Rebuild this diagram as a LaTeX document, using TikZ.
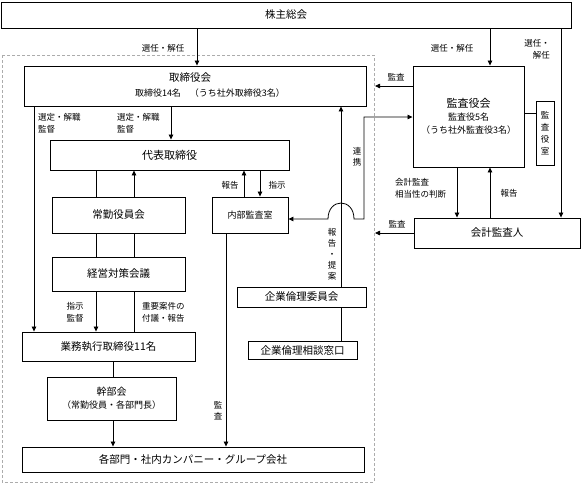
\documentclass[tikz,border=0pt]{standalone}
\usepackage{fontspec}
\setmainfont{Noto Sans CJK JP}
\usetikzlibrary{arrows.meta}
\newcommand{\fbig}{\fontsize{10.5}{13}\selectfont}
\newcommand{\fmid}{\fontsize{9}{13}\selectfont}
\newcommand{\flab}{\fontsize{8.5}{12}\selectfont}
\begin{document}
\begin{tikzpicture}[x=1pt,y=-1pt,
  box/.style={draw, line width=0.9pt, inner sep=0pt, font=\fbig, align=center},
  lbl/.style={font=\flab, inner sep=0pt, align=center},
  vlbl/.style={font=\fontsize{8.5}{11}\selectfont, inner sep=0pt, align=center},
  conn/.style={line width=0.8pt},
  arr/.style={conn, -{Triangle[length=5pt,width=4.5pt]}},
  dashedregion/.style={draw=gray!65, line width=0.9pt, dash pattern=on 3pt off 2pt}]
\useasboundingbox (0,0) rectangle (581,483);
\fill[white] (0,0) rectangle (581,483);
\draw[dashedregion] (2,55) rectangle (374,482);

% boxes
\node[box, minimum width=570, minimum height=26] (kabu) at (286,15) {株主総会};
\node[box, minimum width=342, minimum height=40] (tori) at (195,86) {};
\node[font=\fontsize{10.5}{12}\selectfont, inner sep=0pt] (toriT) at (190,78) {取締役会};
\node[font=\fmid, inner sep=0pt] (toriS) at (210,93) {取締役14名　（うち社外取締役3名）};
\node[box, minimum width=239, minimum height=30, font=\fontsize{11}{13}\selectfont] (daihyo) at (169.5,155) {代表取締役};
\node[box, minimum width=133, minimum height=36] (jokin) at (118.5,215) {常勤役員会};
\node[box, minimum width=133, minimum height=34] (keiei) at (118.5,274) {経営対策会議};
\node[box, minimum width=173, minimum height=29] (gyomu) at (108.5,346.5) {業務執行取締役11名};
\node[box, minimum width=129, minimum height=43] (kanbu) at (111.5,398.5) {{\fontsize{10}{14}\selectfont 幹部会}\\{\fmid （常勤役員・各部門長）}};
\node[box, minimum width=342, minimum height=25] (kakubu) at (193,459.5) {各部門・社内カンパニー・グループ会社};
\node[box, minimum width=76, minimum height=36, font=\fmid] (naibu) at (250,215) {内部監査室};
\node[box, minimum width=129, minimum height=20] (rinri) at (301.5,297) {企業倫理委員会};
\node[box, minimum width=109, minimum height=18] (soudan) at (302.5,350) {企業倫理相談窓口};
\node[box, minimum width=111, minimum height=101] (kansa) at (468.5,116.5) {{\fontsize{11}{14}\selectfont 監査役会}\\{\fmid 監査役5名}\\{\fmid （うち社外監査役3名）}};
\node[box, minimum width=18, minimum height=64, font=\fontsize{8.5}{12}\selectfont] (shitsu) at (545,133) {監\\査\\役\\室};
\node[box, minimum width=166, minimum height=30] (kaikei) at (497,233) {会計監査人};

% free ends at the dashed border
\coordinate (d1) at (375,86);
\coordinate (d2) at (375,233);

% connectors
\draw[arr] (197,0 |- kabu.south) -- (197,0 |- tori.north);
\draw[arr] (490,0 |- kabu.south) -- (490,0 |- kansa.north);
\draw[arr] (561,0 |- kabu.south) -- (561,0 |- kaikei.north);
\draw[arr] (34,0 |- tori.south) -- (34,0 |- gyomu.north);
\draw[arr] (171,0 |- tori.south) -- (171,0 |- daihyo.north);
\draw[conn] (96,0 |- daihyo.south) -- (96,0 |- jokin.north);
\draw[arr] (134,0 |- jokin.north) -- (134,0 |- daihyo.south);
\draw[conn] (96,0 |- jokin.south) -- (96,0 |- keiei.north);
\draw[conn] (134,0 |- jokin.south) -- (134,0 |- keiei.north);
\draw[arr] (96,0 |- keiei.south) -- (96,0 |- gyomu.north);
\draw[conn] (134,0 |- keiei.south) -- (134,0 |- gyomu.north);
\draw[conn] (113,0 |- gyomu.south) -- (113,0 |- kanbu.north);
\draw[arr] (113,0 |- kanbu.south) -- (113,0 |- kakubu.north);
\draw[arr] (244,0 |- naibu.north) -- (244,0 |- daihyo.south);
\draw[arr] (260,0 |- daihyo.south) -- (260,0 |- naibu.north);
\draw[arr] (226,0 |- naibu.south) -- (226,0 |- kakubu.north);
\draw[arr] (341,0 |- rinri.north) -- (341,0 |- tori.south);
\draw[conn] (341,0 |- rinri.south) -- (341,0 |- soudan.north);
\draw[conn, {Triangle[length=5pt,width=4.5pt]}-{Triangle[length=5pt,width=4.5pt]}]
  (naibu.east |- 0,219) -- (328,219) .. controls (328,197.7) and (354,197.7) .. (354,219)
  -- (364,219) -- (364,117) -- (kansa.west |- 0,117);
\draw[arr] (kansa.west |- 0,86) -- (d1);
\draw[arr] (kaikei.west |- 0,233) -- (d2);
\draw[conn] (kansa.east |- 0,113) -- (shitsu.west |- 0,113);
\draw[arr] (457,0 |- kansa.south) -- (457,0 |- kaikei.north);
\draw[arr] (490,0 |- kaikei.north) -- (490,0 |- kansa.south);

% labels
\node[lbl] (l1) at (163,48) {選任・解任};
\node[lbl] (l2) at (452,48) {選任・解任};
\node[lbl, align=right, anchor=east] (l3) at (550,49) {選任・\\解任};
\node[lbl, align=left, anchor=west] (l4) at (38,123) {選定・解職\\監督};
\node[lbl, align=left, anchor=west] (l5) at (117,123) {選定・解職\\監督};
\node[lbl] (l6) at (75,312.5) {指示\\監督};
\node[lbl, align=left, anchor=west] (l7) at (142,312.5) {重要案件の\\付議・報告};
\node[lbl] (l8) at (230,185) {報告};
\node[lbl] (l9) at (277,185) {指示};
\node[vlbl] (l10) at (218,410.5) {監\\査};
\node[vlbl] (l11) at (332,254) {報\\告\\・\\提\\案};
\node[vlbl] (l12) at (357,156.5) {連\\携};
\node[lbl] (l13) at (396,77) {監査};
\node[lbl] (l14) at (397,224) {監査};
\node[lbl, align=left, anchor=west] (l15) at (395,188.5) {会計監査\\相当性の判断};
\node[lbl] (l16) at (509,193) {報告};
\end{tikzpicture}
\end{document}
